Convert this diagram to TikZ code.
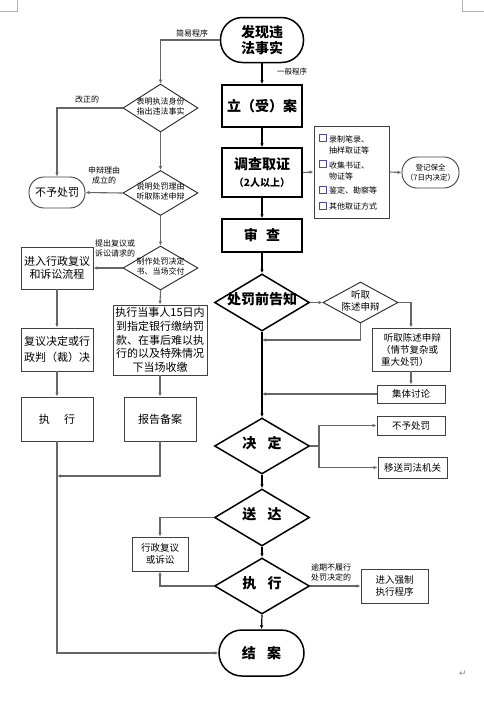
\documentclass[tikz,border=0pt]{standalone}
\usepackage{fontspec}
\setmainfont{Noto Sans CJK SC}
\newfontfamily\dejavu{DejaVu Sans}
\usetikzlibrary{shapes.geometric,arrows.meta}
\newcommand\fs[2]{\fontsize{#1}{#2}\selectfont}
\newcommand\dtxt[1]{\raisebox{-.3em}{\makebox[0pt]{\smash{\begin{tabular}{@{}c@{}}#1\end{tabular}}}}}
\begin{document}
\begin{tikzpicture}[x=1pt,y=-1pt,
  mainbox/.style={draw, line width=1.5pt, inner sep=0pt, align=center, font=\bfseries\fs{14}{16}},
  maindia/.style={draw, diamond, line width=1.5pt, inner sep=0pt, font=\bfseries\fs{14}{16}},
  sidebox/.style={draw=black!75, line width=0.9pt, inner sep=0pt, align=center},
  sidedia/.style={draw=black!85, diamond, line width=0.9pt, inner sep=0pt, font=\fs{8}{10.5}},
  arr/.style={-{Latex[length=4pt,width=3.5pt]}, line width=1.1pt, draw=black!60},
  marr/.style={-{Latex[length=4pt,width=3.5pt]}, line width=1.2pt, draw=black},
  lbl/.style={font=\fs{8}{10}, inner sep=0pt, align=center},
  item/.style={font=\fs{8}{11.5}, inner sep=0pt, align=left, anchor=west},
  cbox/.style={draw=blue!40!black!70, line width=0.6pt},
  pagemark/.style={draw=black!30, line width=0.6pt}
]
\fill[white] (0,0) rectangle (484,705);
\useasboundingbox (0,0) rectangle (484,705);
% page corner marks
\draw[pagemark] (17,0) -- (17,11) -- (0,11);
\draw[pagemark] (462,0) -- (462,11) -- (484,11);
\node[text=black!45, inner sep=0pt, font=\dejavu\fs{9}{10}] (pmark) at (463,674) {↵};

% main column
\node[mainbox, rounded corners=22pt, minimum width=83, minimum height=45] (start) at (262,40) {发现违\\法事实};
\node[mainbox, minimum width=80, minimum height=42] (lian) at (262,106) {立（受）案};
\node[mainbox, minimum width=80, minimum height=49] (diaocha) at (262,172.5) {调查取证\\[1pt]{\fs{10}{12}（2人以上）}};
\node[mainbox, minimum width=80, minimum height=33] (shencha) at (262,235.5) {审\hspace{0.6em}查};
\node[maindia, minimum width=95, minimum height=57] (gaozhi) at (262,302.5) {\dtxt{处罚前告知}};
\node[maindia, minimum width=95, minimum height=56] (jueding) at (262,446) {\dtxt{决\hspace{0.8em}定}};
\node[maindia, minimum width=95, minimum height=57] (songda) at (262,517.5) {\dtxt{送\hspace{0.8em}达}};
\node[maindia, minimum width=95, minimum height=56] (zhixing) at (262,586) {\dtxt{执\hspace{0.8em}行}};
\node[mainbox, rounded corners=23pt, minimum width=85, minimum height=46] (jiean) at (261.5,653) {结\hspace{0.8em}案};

% left branch
\node[sidedia, minimum width=75, minimum height=48] (d1) at (160.5,108) {\dtxt{表明执法身份\\指出违法事实}};
\node[sidedia, minimum width=75, minimum height=45] (d2) at (160.5,193) {\dtxt{说明处罚理由\\听取陈述申辩}};
\node[sidedia, minimum width=75, minimum height=44] (d3) at (160.5,268) {\dtxt{制作处罚决定\\书、当场交付}};
\node[sidebox, rounded corners=15pt, minimum width=56, minimum height=31, font=\fs{11}{13}] (buyu1) at (57,192.5) {不予处罚};
\node[sidebox, minimum width=72, minimum height=42, font=\fs{11}{13.5}] (fuyi) at (57,268) {进入行政复议\\和诉讼流程};
\node[sidebox, minimum width=72, minimum height=43, font=\fs{11}{16}] (fuyijd) at (57,349.5) {复议决定或行\\政判（裁）决};
\node[sidebox, minimum width=72, minimum height=44, font=\fs{11}{13}] (zhix1) at (57,419) {执\hspace{1.3em}行};
\node[sidebox, minimum width=94, minimum height=70, font=\fs{11}{13.8}] (jiaona) at (160,340) {执行当事人15日内\\到指定银行缴纳罚\\款、在事后难以执\\行的以及特殊情况\\下当场收缴};
\node[sidebox, minimum width=72, minimum height=44, font=\fs{11}{13}] (baogao) at (160,419) {报告备案};
\coordinate (j1) at (57,476);

% right side
\node[sidebox, minimum width=75, minimum height=92] (check) at (351.5,172) {};
\draw[cbox] (319,134.5) rectangle (326,141.5);
\draw[cbox] (319,160.5) rectangle (326,167.5);
\draw[cbox] (319,186) rectangle (326,193);
\draw[cbox] (319,202) rectangle (326,209);
\node[item] (it1) at (329,145) {录制笔录、\\抽样取证等};
\node[item] (it2) at (329,171) {收集书证、\\物证等};
\node[item] (it3) at (329,190) {鉴定、勘察等};
\node[item] (it4) at (329,206.5) {其他取证方式};
\node[sidebox, rounded corners=15pt, minimum width=57, minimum height=31, font=\fs{7.5}{10}] (dengji) at (430.5,172.5) {登记保全\\（7日内决定）};

\node[sidedia, minimum width=75, minimum height=41, font=\fs{9.5}{12}] (xd) at (360.5,302.5) {\dtxt{听取\\陈述申辩}};
\node[sidebox, minimum width=78, minimum height=43, font=\fs{9.5}{12}, align=left] (tingqu) at (411,349.5) {\hspace{0.3em}听取陈述申辩\\（情节复杂或\\重大处罚）};
\node[sidebox, minimum width=68, minimum height=18, font=\fs{9.5}{12}] (jiti) at (411,394) {集体讨论};
\node[sidebox, minimum width=68, minimum height=19, font=\fs{9.5}{12}] (buyu2) at (411,425.5) {不予处罚};
\node[sidebox, minimum width=69, minimum height=21, font=\fs{9.5}{12}] (yisong) at (412.5,467.5) {移送司法机关};
\node[sidebox, minimum width=56, minimum height=34, font=\fs{9.5}{12}] (xzfy) at (160,554) {行政复议\\或诉讼};
\node[sidebox, minimum width=67, minimum height=34, font=\fs{9.5}{12}] (qiangzhi) at (394.5,586) {进入强制\\执行程序};
\coordinate (m1) at (262,340);
\coordinate (m2) at (262,394);

% labels
\node[lbl] (l1) at (192,33) {简易程序};
\node[lbl, font=\fs{7.5}{10}] (l2) at (292,72) {一般程序};
\node[lbl] (l3) at (87,99) {改正的};
\node[lbl] (l4) at (104,175) {申辩理由\\成立的};
\node[lbl] (l5) at (115,248) {提出复议或\\诉讼请求的};
\node[lbl, align=left] (l6) at (331,572.5) {逾期不履行\\处罚决定的};

% connectors: left
\draw[arr] (start.west) -- (160.5,40) -- (d1.north);
\draw[arr] (d1.west) -- (57,108) -- (buyu1.north);
\draw[arr] (d1.south) -- (d2.north);
\draw[arr] (d2.west) -- (buyu1.east);
\draw[arr] (d2.south) -- (d3.north);
\draw[arr] (d3.west) -- (fuyi.east);
\draw[arr] (d3.south) -- (jiaona.north);
\draw[arr] (fuyi.south) -- (fuyijd.north);
\draw[arr] (fuyijd.south) -- (zhix1.north);
\draw[arr] (jiaona.south) -- (baogao.north);
\draw[arr] (baogao.south) -- (160,476) -- (j1);
\draw[arr] (zhix1.south) -- (57,653) -- (jiean.west);
% main
\draw[marr] (start.south) -- (lian.north);
\draw[marr] (lian.south) -- (diaocha.north);
\draw[marr] (diaocha.south) -- (shencha.north);
\draw[marr] (shencha.south) -- (gaozhi.north);
\draw[marr] (gaozhi.south) -- (jueding.north);
\draw[marr] (jueding.south) -- (songda.north);
\draw[marr] (songda.south) -- (zhixing.north);
\draw[marr] (zhixing.south) -- (jiean.north);
% right
\draw[arr] (diaocha.east) -- (check.west);
\draw[arr] (check.east) -- (dengji.west);
\draw[arr] (gaozhi.east) -- (xd.west);
\draw[arr] (xd.east) -- (411,302.5) -- (tingqu.north);
\draw[arr] (xd.south) -- (360.5,340) -- (m1);
\draw[arr] (tingqu.south) -- (jiti.north);
\draw[arr] (jiti.west) -- (m2);
\draw[arr] (jueding.east) -- (319,446) -- (319,425.5) -- (buyu2.west);
\draw[arr] (319,446) -- (319,467.5) -- (yisong.west);
\draw[arr] (songda.west) -- (160,517.5) -- (xzfy.north);
\draw[arr] (zhixing.west) -- (160,586) -- (xzfy.south);
\draw[arr] (zhixing.east) -- (qiangzhi.west);
\end{tikzpicture}
\end{document}
